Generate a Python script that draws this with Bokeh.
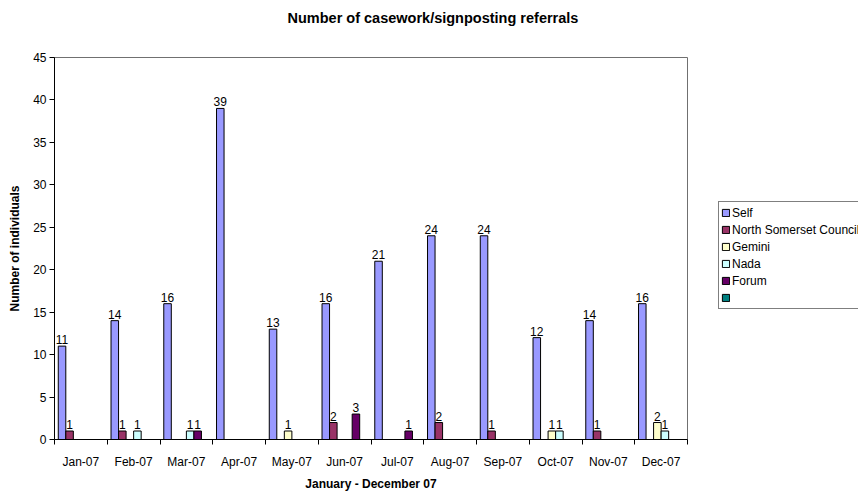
from bokeh.plotting import figure
from bokeh.layouts import row
from bokeh.models import ColumnDataSource, LabelSet, Legend, LegendItem, FixedTicker, Range1d, Title
from bokeh.core.properties import value
from bokeh.embed import file_html
from bokeh.resources import INLINE

months = ["Jan-07", "Feb-07", "Mar-07", "Apr-07", "May-07", "Jun-07",
          "Jul-07", "Aug-07", "Sep-07", "Oct-07", "Nov-07", "Dec-07"]
series_names = ["Self", "North Somerset Council", "Gemini", "Nada", "Forum", ""]
self_vals = [11, 14, 16, 39, 13, 16, 21, 24, 24, 12, 14, 16]
nsc_vals = [1, 1, 0, 0, 0, 2, 0, 2, 1, 0, 1, 0]
gemini_vals = [0, 0, 0, 0, 1, 0, 0, 0, 0, 1, 0, 2]
nada_vals = [0, 1, 1, 0, 0, 0, 0, 0, 0, 1, 0, 1]
forum_vals = [0, 0, 1, 0, 0, 3, 1, 0, 0, 0, 0, 0]
blank_vals = [0] * 12
colors = ["#9999FF", "#993366", "#FFFFCC", "#CCFFFF", "#660066", "#008080"]
all_series = [self_vals, nsc_vals, gemini_vals, nada_vals, forum_vals, blank_vals]
title_text = "Number of casework/signposting referrals"

FONT = "Liberation Sans"
n_series = len(all_series)
slot = 1.0 / (n_series + 1)

p = figure(width=718, height=493, output_backend="svg", toolbar_location=None,
           x_range=Range1d(0, len(months)), y_range=Range1d(0, 45),
           min_border_left=54, min_border_right=31, min_border_top=57,
           min_border_bottom=42)
p.background_fill_color = "white"
p.border_fill_color = "white"
p.outline_line_color = "#707070"
p.xgrid.visible = False
p.ygrid.visible = False
p.title.text = ""

# white spacer nearest the frame, then the real title above it
p.add_layout(Title(text=".", text_font=FONT, text_font_size="12px",
                   text_color="white", standoff=21), "above")
p.add_layout(Title(text=title_text, text_font=FONT, text_font_size="14.5px",
                   text_font_style="bold", text_color="black", align="left",
                   offset=233, standoff=0), "above")

label_x, label_y, label_t = [], [], []
for s, (vals, col) in enumerate(zip(all_series, colors)):
    xs = [i + 0.5 + (s - (n_series - 1) / 2) * slot for i in range(len(months))]
    src = ColumnDataSource(dict(x=xs, top=vals))
    p.vbar(x="x", top="top", bottom=0, width=slot, source=src,
           fill_color=col, line_color="black", line_width=1)
    for x, v in zip(xs, vals):
        if v:
            label_x.append(x)
            label_y.append(v)
            label_t.append(str(v))

lsrc = ColumnDataSource(dict(x=label_x, y=label_y, t=label_t))
p.add_layout(LabelSet(x="x", y="y", text="t", source=lsrc, text_align="center",
                      text_baseline="bottom", y_offset=2, text_font=value(FONT),
                      text_font_size=value("12px"), text_color="black"))

centers = [i + 0.5 for i in range(len(months))]
bounds = list(range(len(months) + 1))
p.xaxis.ticker = FixedTicker(ticks=centers, minor_ticks=bounds)
p.xaxis.major_label_overrides = {c: m for c, m in zip(centers, months)}
p.xaxis.major_tick_line_color = None
p.xaxis.major_tick_out = 0
p.xaxis.major_tick_in = 0
p.xaxis.minor_tick_out = 5
p.xaxis.minor_tick_in = 0
p.xaxis.minor_tick_line_color = "black"
p.xaxis.major_label_standoff = 10
p.xaxis.axis_label = "January - December 07"
p.xaxis.axis_label_standoff = 5

p.yaxis.ticker = FixedTicker(ticks=list(range(0, 46, 5)))
p.yaxis.major_tick_out = 5
p.yaxis.major_tick_in = 0
p.yaxis.minor_tick_line_color = None
p.yaxis.major_label_standoff = 3
p.yaxis.axis_label = "Number of individuals"
p.yaxis.axis_label_standoff = 8

for ax in (p.xaxis, p.yaxis):
    ax.axis_line_color = "black"
    ax.major_label_text_font = FONT
    ax.major_label_text_font_size = "12px"
    ax.major_label_text_color = "black"
    ax.axis_label_text_font = FONT
    ax.axis_label_text_font_size = "12px"
    ax.axis_label_text_font_style = "bold"
    ax.axis_label_text_color = "black"

# legend panel as a second figure to the right of the chart
q = figure(width=140, height=493, output_backend="svg", toolbar_location=None,
           x_axis_location=None, y_axis_location=None, min_border=0,
           x_range=Range1d(0, 1), y_range=Range1d(0, 1))
q.outline_line_color = None
q.grid.visible = False
q.title.text = ""
items = []
for col, name in zip(colors, series_names):
    r = q.vbar(x=[5], top=[0.5], bottom=0, width=0.1, fill_color=col, line_color="black")
    items.append(LegendItem(label=name if name else " ", renderers=[r]))
legend = Legend(items=items, location=(0, 130), orientation="vertical",
                label_text_font=FONT, label_text_font_size="12px",
                label_text_color="black",
                label_height=17, glyph_height=9, glyph_width=9,
                label_standoff=2, spacing=0, padding=2, margin=0,
                border_line_color="black", background_fill_color="white")
q.add_layout(legend, "center")

layout = row(p, q)
open("out.html", "w").write(file_html(layout, INLINE))
